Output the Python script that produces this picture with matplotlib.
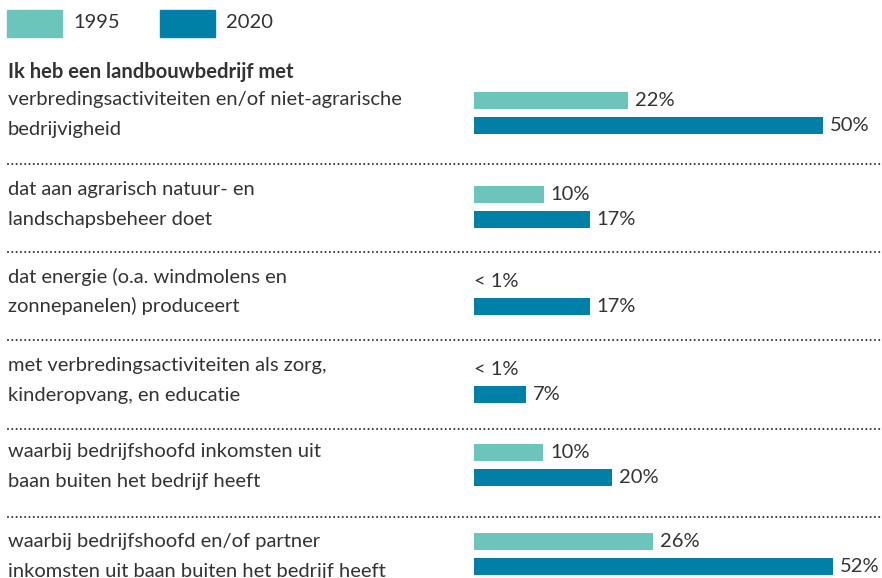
import matplotlib.pyplot as plt
import matplotlib.transforms as mtransforms
from matplotlib.patches import Rectangle

# -----------------------------
# data
# -----------------------------
header = "Ik heb een landbouwbedrijf met"
categories = [
    "verbredingsactiviteiten en/of niet-agrarische\nbedrijvigheid",
    "dat aan agrarisch natuur- en\nlandschapsbeheer doet",
    "dat energie (o.a. windmolens en\nzonnepanelen) produceert",
    "met verbredingsactiviteiten als zorg,\nkinderopvang, en educatie",
    "waarbij bedrijfshoofd inkomsten uit\nbaan buiten het bedrijf heeft",
    "waarbij bedrijfshoofd en/of partner\ninkomsten uit baan buiten het bedrijf heeft",
]
series = ["1995", "2020"]
vals_1995 = [22.0, 10.0, 0, 0, 9.9, 25.6]
vals_2020 = [50.0, 16.6, 16.6, 7.4, 19.8, 51.4]
labels_1995 = ["22%", "10%", "< 1%", "< 1%", "10%", "26%"]
labels_2020 = ["50%", "17%", "17%", "7%", "20%", "52%"]

# -----------------------------
# layout (pixels)
# -----------------------------
W, H = 882, 578
X0 = 474          # where bars start
SCALE = 6.98      # px per percent
bar_h = 16.7
row_y = [100.5, 194.3, 281.5, 369.5, 452.5, 541.3]   # centre of 1995 bar
text_y = [100, 190, 277, 366, 452, 542]
sep_y = [164.3, 252.3, 340, 428.7, 516.7]
line_gap = 29
c1995 = "#6cc5ba"
c2020 = "#0080a6"
txt = "#333333"

plt.rcParams["font.family"] = ["Lato", "DejaVu Sans"]
fs = 14.5

fig = plt.figure(figsize=(W / 100, H / 100), dpi=100)
ax = fig.add_axes([0, 0, 1, 1])
ax.set_xlim(-X0 / SCALE, (W - X0) / SCALE)
ax.set_ylim(H, 0)
ax.axis("off")

left = mtransforms.blended_transform_factory(ax.transAxes, ax.transData)

# legend
for i, (name, col) in enumerate(zip(series, [c1995, c2020])):
    x = 7 + i * 153
    fig.patches.append(Rectangle((x / W, 1 - 37 / H), 55 / W, 27 / H,
                                 transform=fig.transFigure, color=col))
    fig.text((x + 66) / W, 1 - 23 / H, name, fontsize=fs, color=txt,
             va="center", ha="left")

ax.text(8 / W, 72, header, transform=left, fontsize=fs, fontweight="bold",
        color=txt, va="center", ha="left")

for i, cat in enumerate(categories):
    for j, line in enumerate(cat.split("\n")):
        ax.text(8 / W, text_y[i] + j * line_gap, line, transform=left,
                fontsize=fs, color=txt, va="center", ha="left")

    y1 = row_y[i]
    y2 = row_y[i] + 25
    if vals_1995[i] > 0:
        ax.barh(y1, vals_1995[i], height=bar_h, color=c1995)
        ax.text(vals_1995[i] + 1.0, y1, labels_1995[i], fontsize=fs,
                color=txt, va="center", ha="left")
    else:
        ax.text(0, y1, labels_1995[i], fontsize=fs, color=txt,
                va="center", ha="left")
    ax.barh(y2, vals_2020[i], height=bar_h, color=c2020)
    ax.text(vals_2020[i] + 1.0, y2, labels_2020[i], fontsize=fs,
            color=txt, va="center", ha="left")

for y in sep_y:
    ax.plot([8 / W, 1], [y, y], transform=left, color="#333333", lw=1.5,
            linestyle=(0, (0.01, 2.05)), dash_capstyle="round")

fig.savefig("out.png", dpi=100)
